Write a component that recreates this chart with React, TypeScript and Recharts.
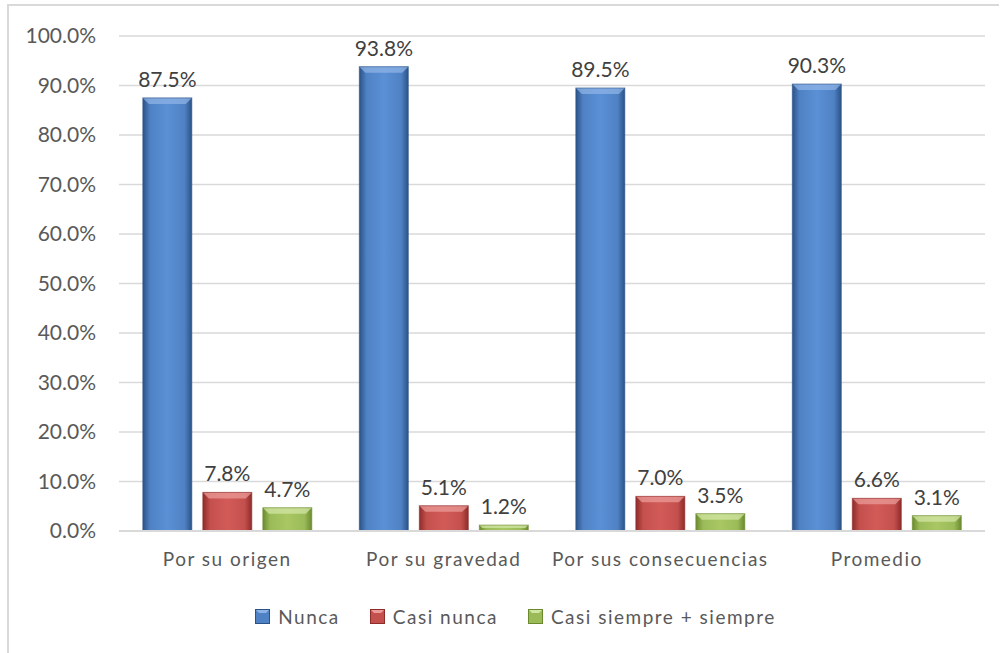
import React from "react";
import {
  BarChart,
  Bar,
  XAxis,
  YAxis,
  CartesianGrid,
  Legend,
  LabelList,
} from "recharts";

const categories = [
  "Por su origen",
  "Por su gravedad",
  "Por sus consecuencias",
  "Promedio",
];
const nunca = [87.5, 93.8, 89.5, 90.3];
const casiNunca = [7.8, 5.1, 7.0, 6.6];
const casiSiempre = [4.7, 1.2, 3.5, 3.1];
const yTicks = [0, 10, 20, 30, 40, 50, 60, 70, 80, 90, 100];

const data = categories.map((name, i) => ({
  name,
  nunca: nunca[i],
  casiNunca: casiNunca[i],
  casiSiempre: casiSiempre[i],
}));

const seriesKeys = ["nunca", "casiNunca", "casiSiempre"] as const;

const palette: Record<string, { id: string; dark: string; mid: string; light: string; top: string }> = {
  nunca: { id: "gBlue", dark: "#2b5287", mid: "#4f82c4", light: "#5b90d6", top: "#8db3e6" },
  casiNunca: { id: "gRed", dark: "#8e2c2a", mid: "#c4504d", light: "#d25b58", top: "#eb9b98" },
  casiSiempre: { id: "gGreen", dark: "#6b8a2e", mid: "#9bbb59", light: "#a9c864", top: "#d2e6a4" },
};

const names: Record<string, string> = {
  nunca: "Nunca",
  casiNunca: "Casi nunca",
  casiSiempre: "Casi siempre + siempre",
};

const font = "Lato, 'Open Sans', sans-serif";

const BevelBar = (props: any, key: string) => {
  const { x, y, width, height } = props;
  const c = palette[key];
  if (!height || height <= 0) return <g />;
  const b = Math.min(6, height / 2);
  return (
    <g>
      <rect x={x} y={y} width={width} height={height} fill={`url(#${c.id})`} />
      <polygon
        points={`${x},${y} ${x + width},${y} ${x + width - b},${y + b} ${x + b},${y + b}`}
        fill={c.top}
        opacity={0.75}
      />
      <rect x={x} y={y} width={width} height={height} fill="none" stroke={c.dark} strokeWidth={1} opacity={0.6} />
    </g>
  );
};

const renderLegend = () => (
  <div
    style={{
      display: "flex",
      justifyContent: "center",
      gap: 30,
      paddingLeft: 46,
      fontFamily: font,
      fontSize: 19,
      letterSpacing: 1.5,
      color: "#595959",
    }}
  >
    {seriesKeys.map((k) => {
      const c = palette[k];
      return (
        <span key={k} style={{ display: "inline-flex", alignItems: "center" }}>
          <svg width={15} height={15} style={{ marginRight: 8 }}>
            <rect x={0} y={0} width={15} height={15} fill={c.mid} />
            <polygon points="0,0 15,0 11,4 4,4" fill={c.top} />
            <rect x={0.5} y={0.5} width={14} height={14} fill="none" stroke={c.dark} strokeWidth={1} />
          </svg>
          {names[k]}
        </span>
      );
    })}
  </div>
);

const fmt = (v: any) => `${Number(v).toFixed(1)}%`;

const App = () => {
  return (
    <div style={{ position: "absolute", left: 0, top: 0, width: 1003, height: 653, background: "#fff", overflow: "hidden" }}>
      <div
        style={{
          position: "absolute",
          left: 7,
          top: 4,
          width: 990,
          height: 700,
          borderLeft: "2px solid #d9d9d9",
          borderTop: "2px solid #d9d9d9",
        }}
      />
      <BarChart
        width={1003}
        height={653}
        data={data}
        margin={{ top: 36, right: 18, left: 0, bottom: 59 }}
        barGap={11}
        barCategoryGap="11%"
        style={{ position: "absolute", left: 0, top: 0 }}
      >
        <defs>
          {Object.values(palette).map((c) => (
            <linearGradient key={c.id} id={c.id} x1="0" y1="0" x2="1" y2="0">
              <stop offset="0%" stopColor={c.dark} />
              <stop offset="15%" stopColor={c.mid} />
              <stop offset="50%" stopColor={c.light} />
              <stop offset="85%" stopColor={c.mid} />
              <stop offset="100%" stopColor={c.dark} />
            </linearGradient>
          ))}
        </defs>
        <CartesianGrid vertical={false} stroke="#d9d9d9" strokeWidth={1.5} />
        <XAxis
          dataKey="name"
          height={40}
          tickLine={false}
          tickSize={0}
          tickMargin={22}
          axisLine={{ stroke: "#d9d9d9", strokeWidth: 2 }}
          tick={{ fill: "#595959", fontSize: 19, fontFamily: font, letterSpacing: 1.5 }}
        />
        <YAxis
          width={119}
          domain={[0, 100]}
          ticks={yTicks}
          tickFormatter={fmt}
          axisLine={false}
          tickLine={false}
          tickSize={0}
          tickMargin={23}
          tick={{ fill: "#595959", fontSize: 21, fontFamily: font }}
        />
        <Legend verticalAlign="bottom" content={renderLegend} wrapperStyle={{ bottom: 25 }} />
        {seriesKeys.map((k) => (
          <Bar
            key={k}
            dataKey={k}
            name={names[k]}
            fill={palette[k].mid}
            isAnimationActive={false}
            shape={(p: any) => BevelBar(p, k)}
          >
            <LabelList
              dataKey={k}
              position="top"
              offset={11}
              formatter={fmt}
              style={{ fill: "#404040", fontSize: 21, fontFamily: font }}
            />
          </Bar>
        ))}
      </BarChart>
    </div>
  );
};

export default App;
